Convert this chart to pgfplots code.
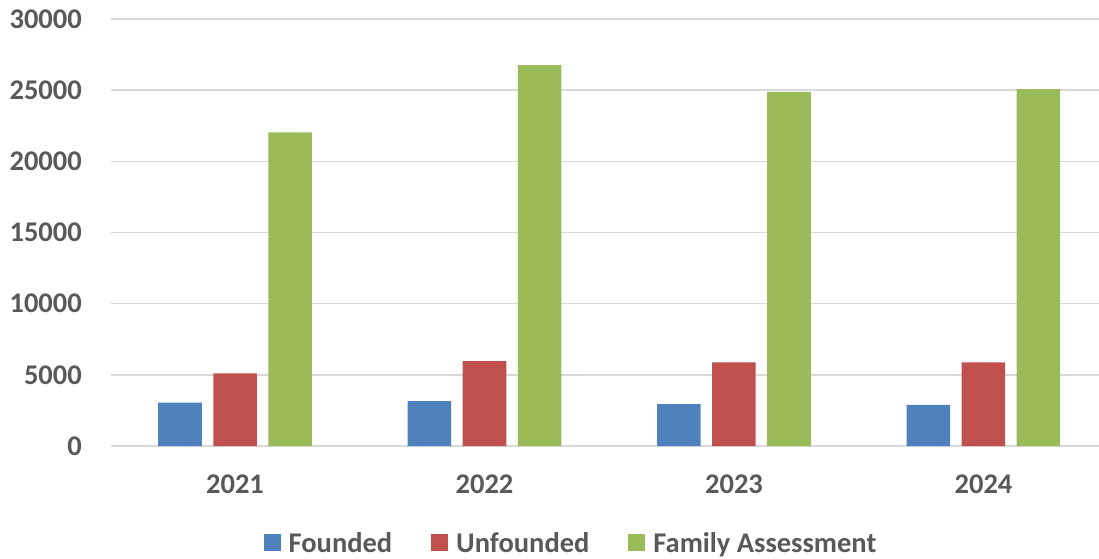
\documentclass[border=0pt]{standalone}
\usepackage{pgfplots}
\pgfplotsset{compat=1.18}
\usepackage{fontspec}
\setmainfont{Carlito}
\definecolor{txt}{HTML}{595959}
\definecolor{gridc}{HTML}{D9D9D9}
\definecolor{cF}{HTML}{4F81BD}
\definecolor{cU}{HTML}{C0504D}
\definecolor{cA}{HTML}{9BBB59}
\begin{document}
\begin{tikzpicture}
\begin{axis}[
  at={(111pt,112pt)}, anchor=south west,
  scale only axis,
  width=988pt, height=427pt,
  xmin=-0.497, xmax=3.463,
  ymin=0, ymax=30000,
  ytick={0,5000,10000,15000,20000,25000,30000},
  scaled y ticks=false,
  xtick={0,1,2,3},
  xticklabels={2021,2022,2023,2024},
  axis line style={draw=none},
  major tick length=0pt,
  xmajorgrids=false,
  ymajorgrids=true,
  major grid style={draw=gridc, line width=1.5pt},
  /pgf/number format/1000 sep={},
  /pgf/number format/assume math mode=true,
  ticklabel style={font=\fontsize{28.5}{34}\selectfont\bfseries, text=txt, inner sep=0pt},
  yticklabel style={xshift=-29pt},
  xticklabel style={yshift=-29pt},
  ybar=11.5pt,
  bar width=43.5pt,
  legend columns=3,
  legend style={at={(0.4646,-0.227)}, anchor=center, draw=none,
    font=\fontsize{28.5}{34}\selectfont\bfseries, text=txt,
    /tikz/every odd column/.append style={column sep=8pt},
    /tikz/every even column/.append style={column sep=39pt},
    nodes={inner sep=0pt, text=txt}},
  legend image code/.code={\fill[#1] (0pt,-8.5pt) rectangle (17pt,8.5pt);},
]
\addplot[fill=cF, draw=none] coordinates {(0,3050) (1,3150) (2,2940) (3,2890)};
\addplot[fill=cU, draw=none] coordinates {(0,5100) (1,5960) (2,5870) (3,5870)};
\addplot[fill=cA, draw=none] coordinates {(0,22040) (1,26760) (2,24880) (3,25070)};
\legend{Founded,Unfounded,Family Assessment}
\end{axis}
\pgfresetboundingbox
\path[use as bounding box] (0,0) rectangle (1099pt,558pt);
\end{tikzpicture}
\end{document}
